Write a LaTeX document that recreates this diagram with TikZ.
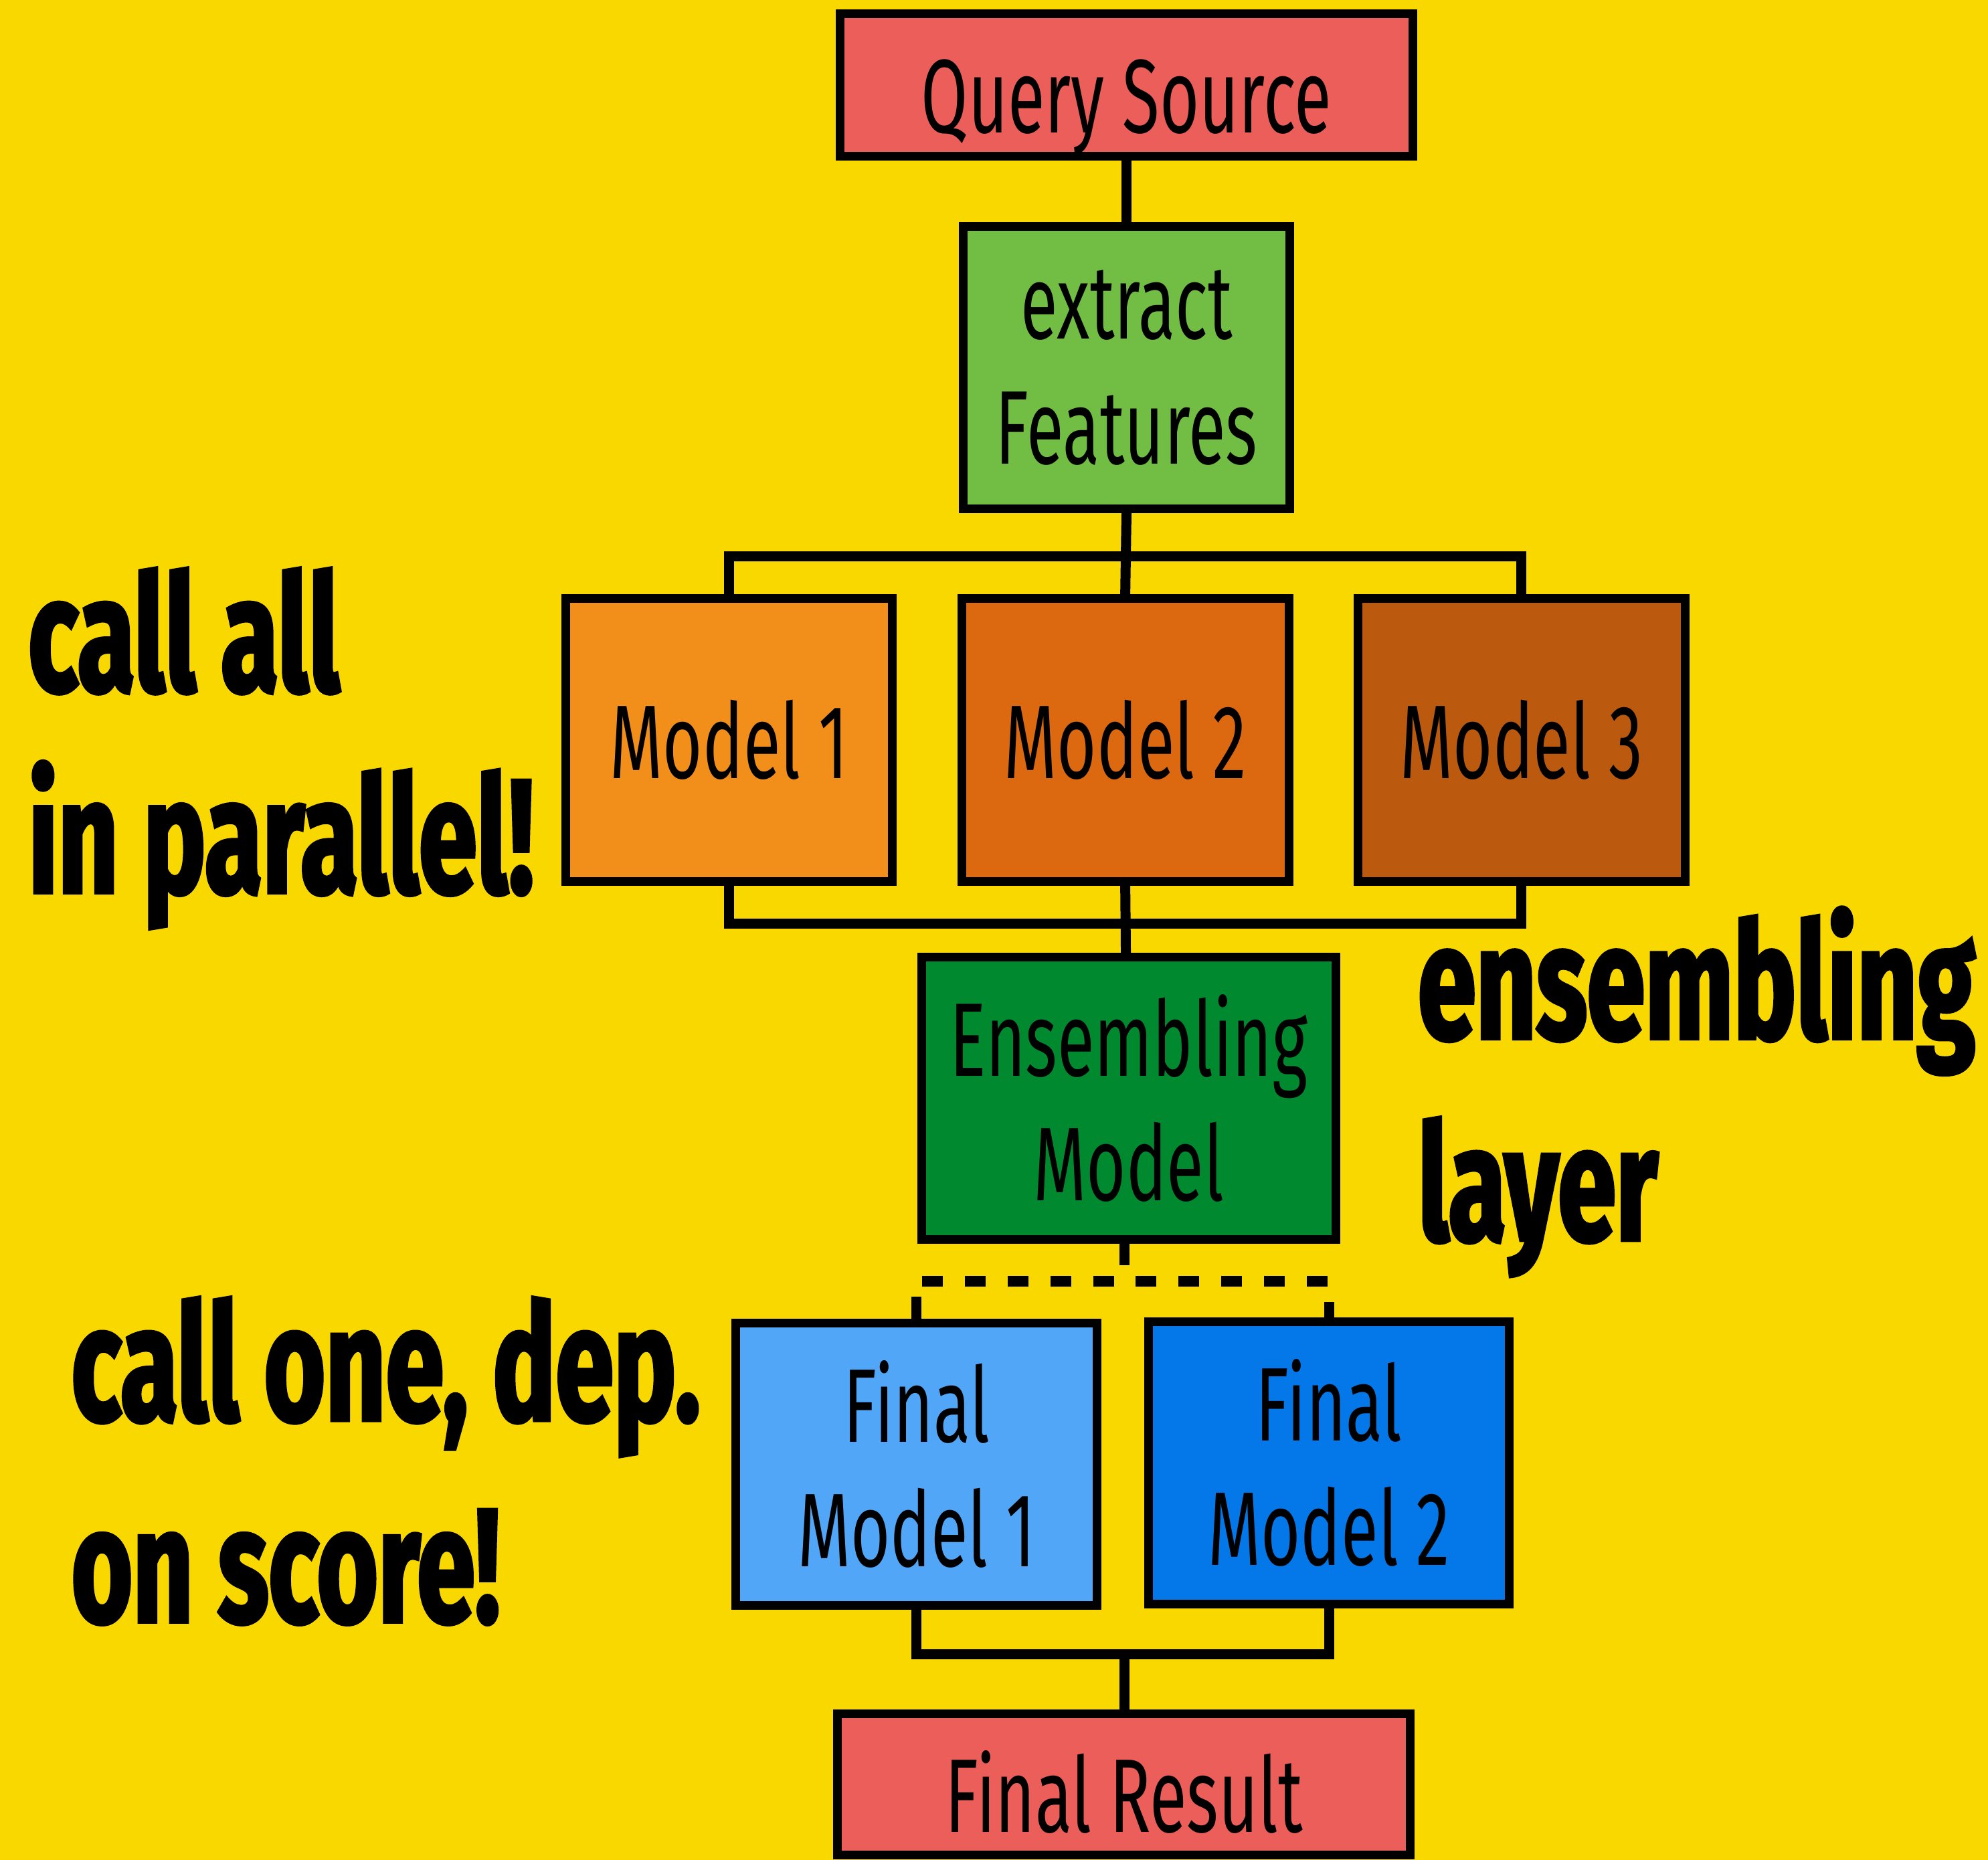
\documentclass[tikz,border=0pt]{standalone}
\usepackage{fontspec}
\usepackage{tikz}
\newfontfamily\boxfont{Fira Sans}[FakeStretch=0.65]
\newfontfamily\notefont{Fira Sans}[FakeStretch=0.645,FakeBold=2]
\definecolor{bgyellow}{HTML}{F9D800}
\definecolor{srcred}{HTML}{EC5E59}
\definecolor{featgreen}{HTML}{72BE44}
\definecolor{orangeA}{HTML}{F28F1B}
\definecolor{orangeB}{HTML}{DC6810}
\definecolor{orangeC}{HTML}{BB5A0E}
\definecolor{ensgreen}{HTML}{00892E}
\definecolor{blueA}{HTML}{52A6F8}
\definecolor{blueB}{HTML}{0478E8}

\begin{document}
\begin{tikzpicture}
  [x=0.02cm,y=-0.02cm,
   box/.style={draw,line width=3.9pt,inner sep=0pt,align=center,
     font=\boxfont\fontsize{47}{56}\selectfont},
   wide/.style={box,minimum width=9.04cm,minimum height=2.24cm,
     text height=43pt,text depth=0pt},
   tall/.style={box,minimum width=5.16cm,minimum height=4.46cm},
   note/.style={anchor=base west,inner sep=0pt,align=left,
     font=\notefont\bfseries\fontsize{73}{90.5}\selectfont},
   wire/.style={line width=4.5pt},
   dashwire/.style={line width=4.8pt,dash pattern=on 9.3pt off 9.9pt}]
  \fill[bgyellow] (0,0) rectangle (1568,1467);
  \useasboundingbox (0,0) rectangle (1568,1467);

  \node[wide,fill=srcred] (src) at (888.5,67) {Query Source};
  \node[tall,fill=featgreen,minimum height=4.45cm] (feat) at (888.5,290) {extract\\Features};

  \node[tall,fill=orangeA] (m1) at (575,583.6) {Model 1};
  \node[tall,fill=orangeB] (m2) at (887.5,583.6) {Model 2};
  \node[tall,fill=orangeC] (m3) at (1200,583.6) {Model 3};

  \node[tall,fill=ensgreen,minimum width=6.53cm,minimum height=4.45cm] (ens) at (890.3,866.4) {Ensembling\\Model};

  \node[tall,fill=blueA,minimum width=5.7cm] (fm1) at (723,1155) {Final\\Model 1};
  \node[tall,fill=blueB,minimum width=5.69cm] (fm2) at (1048.3,1154) {Final\\Model 2};

  \node[wide,fill=srcred,minimum height=2.23cm] (res) at (886.5,1407.7) {Final Result};

  \node[note] (par) at (22,704.3) {call all\\in parallel!};
  \node[note] (enslayer) at (1118,978.5) {ensembling\\layer};
  \node[note] (pick) at (56,1279.5) {call one, dep.\\on score!};

  \coordinate (topbus) at (888,438.7);
  \coordinate (botbus) at (888,728.6);
  \coordinate (stub) at (887,998);
  \coordinate (dl) at (727.2,1010.6);
  \coordinate (dr) at (1048,1010.6);
  \coordinate (fs1) at (723,1023);
  \coordinate (fs2) at (1048.3,1027);
  \coordinate (finbus) at (887,1305);

  \draw[wire] (src.south) -- (feat.north);
  \draw[wire] (feat.south) -- (m2.north);
  \draw[wire] (m1.north) |- (topbus) -| (m3.north);
  \draw[wire] (m1.south) |- (botbus) -| (m3.south);
  \draw[wire] (m2.south) -- (botbus |- ens.north);
  \draw[wire] (stub |- ens.south) -- (stub);
  \draw[dashwire] (dl) -- (dr);
  \draw[wire] (fs1) -- (fs1 |- fm1.north);
  \draw[wire] (fs2) -- (fs2 |- fm2.north);
  \draw[wire] (fm1.south) |- (finbus) -| (fm2.south);
  \draw[wire] (finbus) -- (finbus |- res.north);
\end{tikzpicture}
\end{document}
